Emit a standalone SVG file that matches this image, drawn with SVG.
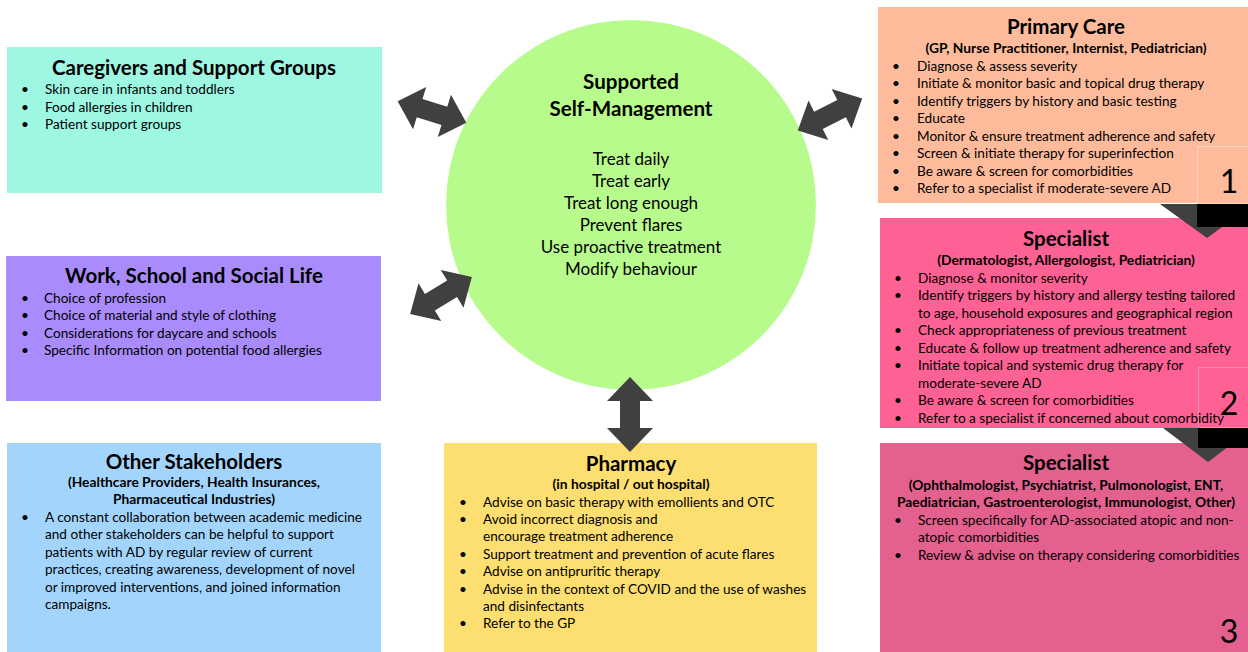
<svg xmlns="http://www.w3.org/2000/svg" width="1248" height="652" viewBox="0 0 1248 652">
<style>
text{font-family:Lato,"Open Sans","Liberation Sans",sans-serif;fill:#000}
.t{font-size:20.5px;font-weight:bold;text-anchor:middle}
.s{font-size:13.8px;font-weight:bold;text-anchor:middle}
.b{font-size:13.6px}
.c{font-size:17px;text-anchor:middle}
.ct{font-size:20.6px;font-weight:bold;text-anchor:middle}
.n{font-size:32px;text-anchor:middle}
.arr{fill:#404040}
</style>
<defs>
<path id="dbl" d="M-37.5 0 L-13.5 -23 L-13.5 -10 L13.5 -10 L13.5 -23 L37.5 0 L13.5 23 L13.5 10 L-13.5 10 L-13.5 23 Z"/>
</defs>
<rect width="1248" height="652" fill="#fff"/>

<g id="self-management">
<circle cx="631" cy="205" r="185" fill="#B8FB8D"/>
<text class="ct" x="631" y="89">Supported</text>
<text class="ct" x="631" y="116">Self-Management</text>
<text class="c" x="631" y="165">Treat daily</text>
<text class="c" x="631" y="187">Treat early</text>
<text class="c" x="631" y="209">Treat long enough</text>
<text class="c" x="631" y="231">Prevent flares</text>
<text class="c" x="631" y="253">Use proactive treatment</text>
<text class="c" x="631" y="275">Modify behaviour</text>
</g>

<g id="caregivers">
<rect x="7" y="47" width="375" height="146" fill="#9DF7E3"/>
<text class="t" x="194" y="75">Caregivers and Support Groups</text>
<g class="b">
<text x="21" y="94">•</text><text x="45" y="94">Skin care in infants and toddlers</text>
<text x="21" y="112">•</text><text x="45" y="112">Food allergies in children</text>
<text x="21" y="129">•</text><text x="45" y="129">Patient support groups</text>
</g>
</g>

<g id="work">
<rect x="6" y="256" width="375" height="145" fill="#A98BFB"/>
<text class="t" x="194" y="283">Work, School and Social Life</text>
<g class="b">
<text x="21" y="303">•</text><text x="44" y="303">Choice of profession</text>
<text x="21" y="320">•</text><text x="44" y="320">Choice of material and style of clothing</text>
<text x="21" y="338">•</text><text x="44" y="338">Considerations for daycare and schools</text>
<text x="21" y="355">•</text><text x="44" y="355">Specific Information on potential food allergies</text>
</g>
</g>

<g id="other-stakeholders">
<rect x="7" y="443" width="374" height="209" fill="#A3D5FC"/>
<text class="t" x="194" y="469">Other Stakeholders</text>
<text class="s" x="194" y="487">(Healthcare Providers, Health Insurances,</text>
<text class="s" x="194" y="504">Pharmaceutical Industries)</text>
<g class="b">
<text x="21" y="522">•</text><text x="45" y="522">A constant collaboration between academic medicine</text>
<text x="45" y="539">and other stakeholders can be helpful to support</text>
<text x="45" y="557">patients with AD by regular review of current</text>
<text x="45" y="574">practices, creating awareness, development of novel</text>
<text x="45" y="592">or improved interventions, and joined information</text>
<text x="45" y="609">campaigns.</text>
</g>
</g>

<g id="pharmacy">
<rect x="444" y="443" width="373" height="209" fill="#FCDF70"/>
<text class="t" x="631" y="471">Pharmacy</text>
<text class="s" x="631" y="489">(in hospital / out hospital)</text>
<g class="b">
<text x="459" y="507">•</text><text x="483" y="507">Advise on basic therapy with emollients and OTC</text>
<text x="459" y="524">•</text><text x="483" y="524">Avoid incorrect diagnosis and</text>
<text x="483" y="541">encourage treatment adherence</text>
<text x="459" y="559">•</text><text x="483" y="559">Support treatment and prevention of acute flares</text>
<text x="459" y="576">•</text><text x="483" y="576">Advise on antipruritic therapy</text>
<text x="459" y="594">•</text><text x="483" y="594">Advise in the context of COVID and the use of washes</text>
<text x="483" y="611">and disinfectants</text>
<text x="459" y="628">•</text><text x="483" y="628">Refer to the GP</text>
</g>
</g>

<g id="primary-care">
<rect x="878" y="7" width="370" height="196" fill="#FDBB9B"/>
<rect x="1197.5" y="146.5" width="52" height="57" fill="none" stroke="#FFD3BC" stroke-width="1"/>
<text class="t" x="1066" y="34">Primary Care</text>
<text class="s" x="1066" y="53">(GP, Nurse Practitioner, Internist, Pediatrician)</text>
<g class="b">
<text x="892" y="71">•</text><text x="917" y="71">Diagnose &amp; assess severity</text>
<text x="892" y="88">•</text><text x="917" y="88">Initiate &amp; monitor basic and topical drug therapy</text>
<text x="892" y="106">•</text><text x="917" y="106">Identify triggers by history and basic testing</text>
<text x="892" y="123">•</text><text x="917" y="123">Educate</text>
<text x="892" y="141">•</text><text x="917" y="141">Monitor &amp; ensure treatment adherence and safety</text>
<text x="892" y="158">•</text><text x="917" y="158">Screen &amp; initiate therapy for superinfection</text>
<text x="892" y="176">•</text><text x="917" y="176">Be aware &amp; screen for comorbidities</text>
<text x="892" y="193">•</text><text x="917" y="193">Refer to a specialist if moderate-severe AD</text>
</g>
<text class="n" x="1229" y="193">1</text>
</g>

<g id="specialist-1">
<rect x="880" y="218" width="368" height="210" fill="#FE6193"/>
<rect x="1198.5" y="367.5" width="51" height="60" fill="none" stroke="#FF8AAE" stroke-width="1"/>
<text class="t" x="1066" y="246">Specialist</text>
<text class="s" x="1066" y="265">(Dermatologist, Allergologist, Pediatrician)</text>
<g class="b">
<text x="894" y="283">•</text><text x="918" y="283">Diagnose &amp; monitor severity</text>
<text x="894" y="300">•</text><text x="918" y="300">Identify triggers by history and allergy testing tailored</text>
<text x="918" y="318">to age, household exposures and geographical region</text>
<text x="894" y="335">•</text><text x="918" y="335">Check appropriateness of previous treatment</text>
<text x="894" y="353">•</text><text x="918" y="353">Educate &amp; follow up treatment adherence and safety</text>
<text x="894" y="370">•</text><text x="918" y="370">Initiate topical and systemic drug therapy for</text>
<text x="918" y="388">moderate-severe AD</text>
<text x="894" y="405">•</text><text x="918" y="405">Be aware &amp; screen for comorbidities</text>
<text x="894" y="423">•</text><text x="918" y="423">Refer to a specialist if concerned about comorbidity</text>
</g>
<text class="n" x="1229" y="415">2</text>
</g>

<g id="specialist-2">
<rect x="880" y="443" width="368" height="209" fill="#E3608F"/>
<text class="t" x="1066" y="470">Specialist</text>
<text class="s" x="1066" y="490">(Ophthalmologist, Psychiatrist, Pulmonologist, ENT,</text>
<text class="s" x="1066" y="507">Paediatrician, Gastroenterologist, Immunologist, Other)</text>
<g class="b">
<text x="894" y="525">•</text><text x="918" y="525">Screen specifically for AD-associated atopic and non-</text>
<text x="918" y="542">atopic comorbidities</text>
<text x="894" y="560">•</text><text x="918" y="560">Review &amp; advise on therapy considering comorbidities</text>
</g>
<text class="n" x="1229" y="643">3</text>
</g>

<g id="connectors">
<use href="#dbl" class="arr" transform="translate(432 112) rotate(17.4) scale(0.96)"/>
<use href="#dbl" class="arr" transform="translate(830 114.5) rotate(-26.6) scale(0.96)"/>
<use href="#dbl" class="arr" transform="translate(441 295.5) rotate(-31) scale(0.96)"/>
<use href="#dbl" class="arr" transform="translate(630 414.5) rotate(90)"/>
<polygon class="arr" points="1160,204 1254,204 1207,238"/>
<rect x="1197" y="204" width="51" height="23" fill="#000"/>
<polygon class="arr" points="1163,428 1253,428 1208,462"/>
<rect x="1198" y="428" width="50" height="20" fill="#000"/>
</g>
</svg>
